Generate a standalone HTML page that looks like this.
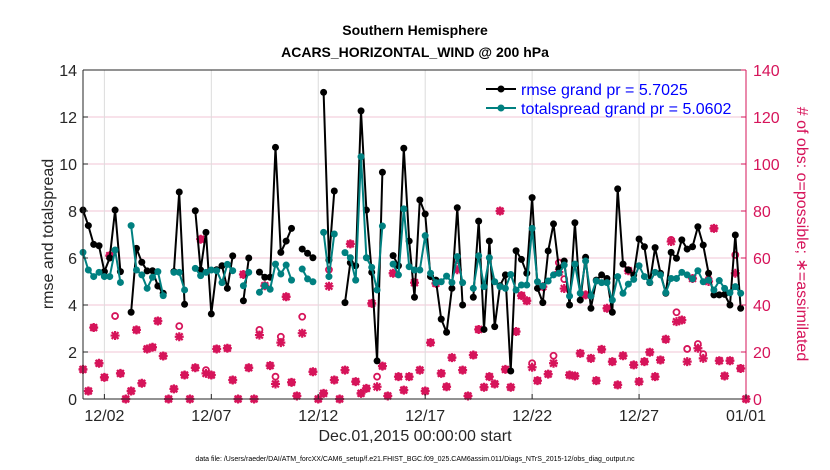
<!DOCTYPE html>
<html><head><meta charset="utf-8"><style>
body{margin:0;background:#fff;}
svg{display:block;font-family:"Liberation Sans",sans-serif;}
</style></head><body>
<svg id="chart" width="830" height="470" xmlns="http://www.w3.org/2000/svg"></svg>
<script>
const rmse=[8.04,7.38,6.58,6.52,5.42,6.0,8.04,5.42,null,3.69,6.41,5.82,5.45,5.46,4.81,4.5,null,5.42,8.81,4.03,null,8.01,5.49,7.09,3.62,5.5,5.67,4.71,6.09,null,4.18,6.0,null,5.40,5.18,5.18,10.71,6.24,6.72,7.26,null,6.38,6.2,6.01,null,13.05,5.91,8.85,null,4.1,5.8,5.67,12.26,8.04,5.39,1.62,9.65,null,6.1,5.67,10.67,6.72,4.33,8.47,7.87,5.21,5.06,3.4,2.84,4.71,8.14,4.0,null,4.33,7.57,2.96,6.72,3.08,4.82,5.28,1.19,6.31,5.94,5.35,8.57,4.71,4.10,6.3,7.45,5.56,5.87,4.0,7.5,4.21,6.03,3.86,5.06,5.28,5.13,3.69,8.94,5.74,5.49,5.28,6.81,6.48,4.95,6.44,5.35,4.5,6.24,5.99,6.77,6.38,6.48,7.33,6.55,5.35,4.43,4.43,4.45,4.0,6.98,3.86,null];
const spread=[6.24,5.49,5.21,5.39,5.21,5.21,6.34,4.96,null,7.38,5.49,5.28,4.71,5.18,5.42,4.40,null,5.39,5.39,4.64,null,5.56,5.25,5.39,5.49,5.46,4.95,5.73,5.46,null,4.82,5.39,null,4.54,4.82,4.67,5.74,5.32,5.70,5.06,null,5.53,5.11,4.99,null,7.09,5.21,7.02,null,6.23,6.01,5.06,10.31,6.01,5.60,4.64,7.36,null,5.74,5.28,8.09,5.63,5.49,5.49,6.95,5.35,4.95,4.99,5.23,4.96,6.06,4.95,null,4.71,6.09,4.78,6.01,4.99,4.78,4.71,5.30,4.64,4.85,4.85,7.26,4.99,4.81,5.02,5.28,5.35,5.70,4.38,5.74,4.5,5.87,4.38,5.02,4.95,4.95,4.21,5.21,4.5,4.89,5.09,5.67,5.21,4.96,5.39,5.28,4.52,5.13,5.13,5.39,5.28,5.11,5.46,4.99,5.06,4.64,5.04,4.71,4.52,4.78,4.5,null];
const assim=[12.6,3.4,30.4,15.2,9.2,61,27,10.9,0,3.4,29.4,6.7,21.3,22,33.2,18.3,0,4.3,26.5,10.2,0,13.3,68,10.9,10.2,21.3,null,21.6,8.1,0,53,13.3,0,27.2,48.2,14.2,6.4,24,43.5,7.1,1.3,28,null,11.6,0,2.4,48,8.1,0,12.3,66,7.4,2.4,4.5,40.7,5.2,14,1.3,53.5,9.5,3.8,9.5,49.5,12.3,3.4,24,49.2,10.9,5.2,17.6,55,12.3,1.3,18.7,29.6,5,9.5,6.4,80,12.6,5,28.7,44,41.8,13.5,7.8,47.8,10.6,15.2,54,47,10.2,9.8,19.4,44.3,17.3,7.8,21.1,38.6,15.9,6,18.4,54.6,14.5,7.4,15.9,19.9,9.5,16.6,25.4,67,32.9,33.6,15.9,51.3,21.6,17.3,50,72.6,16.3,9.8,16.3,53.5,13,0];
const possible=[12.6,3.4,30.4,15.2,9.2,61,35.3,10.9,0,3.4,29.4,6.7,21.3,22,33.2,18.3,0,4.3,31,10.2,0,13.3,68,12.3,10.2,21.3,null,21.6,8.1,0,53,13.3,0,29.4,48.2,14.2,9.5,26.5,43.5,7.1,1.3,35,null,11.6,0,2.4,55,8.1,0,12.3,66,7.4,2.4,4.5,40.7,9.5,14,1.3,53.5,9.5,3.8,9.5,49.5,12.3,3.4,24,49.2,10.9,5.2,17.6,59,12.3,1.3,18.7,29.6,5,9.5,6.4,80,12.6,5,28.7,44,41.8,15.2,7.8,47.8,10.6,18.4,58,51,10.2,9.8,19.4,44.3,17.3,7.8,21.1,38.6,15.9,6,18.4,54.6,14.5,7.4,15.9,19.9,9.5,16.6,25.4,67.7,36.9,33.6,21.3,51.3,23.4,19.1,51,72.6,16.3,9.8,16.3,61.3,13,0];
const xTickDays=[1,6,11,16,21,26,31];
const xTickLabels=["12/02","12/07","12/12","12/17","12/22","12/27","01/01"];
const yTicks=[0,2,4,6,8,10,12,14];
const y2Ticks=[0,20,40,60,80,100,120,140];

const L=83,R=746,T=70,B=399,MAG="#d6145a";
const X=d=>L+(R-L)*d/31;
const XS=i=>X(i*0.25);
const Y=v=>B-(B-T)*v/14;
const Y2=v=>B-(B-T)*v/140;
const svg=document.getElementById('chart');
const NS="http://www.w3.org/2000/svg";
function mk(tag,attrs,parent){const e=document.createElementNS(NS,tag);for(const k in attrs)e.setAttribute(k,attrs[k]);(parent||svg).appendChild(e);return e;}

const grid=mk('g',{});


y2Ticks.forEach(v=>{if(v>0&&v<140){const l=mk('line',{x1:L,x2:R,y1:Y2(v),y2:Y2(v),stroke:"#f2c6d6","stroke-width":1},grid);

}});
xTickDays.forEach(d=>{if(d<31){const l=mk('line',{x1:X(d),x2:X(d),y1:T,y2:B,stroke:"#dcdcdc","stroke-width":1},grid);

}});

// obs markers
const obs=mk('g',{});


possible.forEach((v,i)=>{if(v==null)return;const c=mk('circle',{cx:XS(i),cy:Y2(v),r:3,fill:"none",stroke:MAG,"stroke-width":1.8},obs);

});
assim.forEach((v,i)=>{if(v==null)return;const x=XS(i),y=Y2(v),s=4.5,d=3.4;
const p=mk('path',{d:`M${x-s} ${y}H${x+s}M${x} ${y-s}V${y+s}M${x-d} ${y-d}L${x+d} ${y+d}M${x-d} ${y+d}L${x+d} ${y-d}`,stroke:MAG,"stroke-width":2.2,fill:"none"},obs);

});

function series(arr,color,name){
  const g=mk('g',{});
  
  
  let d="",pen=false;
  arr.forEach((v,i)=>{if(v==null){pen=false;return;}d+=(pen?"L":"M")+XS(i).toFixed(1)+" "+Y(v).toFixed(1);pen=true;});
  mk('path',{d:d,stroke:color,"stroke-width":2,fill:"none","stroke-linejoin":"round"},g);
  arr.forEach((v,i)=>{if(v==null)return;const c=mk('circle',{cx:XS(i),cy:Y(v),r:3.5,fill:color},g);
  
  });
}
series(rmse,"#000","rmse-series");
series(spread,"#008080","totalspread-series");

// axes
const ax=mk('g',{});


mk('line',{x1:L,x2:L,y1:T,y2:B,stroke:"#262626","stroke-width":1},ax);
mk('line',{x1:L,x2:R,y1:B,y2:B,stroke:"#262626","stroke-width":1},ax);
mk('line',{x1:L,x2:R,y1:T,y2:T,stroke:"#262626","stroke-width":1},ax);
mk('line',{x1:R,x2:R,y1:T,y2:B,stroke:MAG,"stroke-width":1},ax);
yTicks.forEach(v=>{mk('line',{x1:L,x2:L+5,y1:Y(v),y2:Y(v),stroke:"#262626"},ax);
const t=mk('text',{x:L-6,y:Y(v)+6,"text-anchor":"end","font-size":16,fill:"#262626"},ax);t.textContent=v;

});
y2Ticks.forEach(v=>{mk('line',{x1:R-5,x2:R,y1:Y2(v),y2:Y2(v),stroke:MAG},ax);
const t=mk('text',{x:R+7,y:Y2(v)+6,"font-size":16,fill:MAG},ax);t.textContent=v;

});
xTickDays.forEach((d,i)=>{mk('line',{x1:X(d),x2:X(d),y1:B,y2:B-5,stroke:"#262626"},ax);
const t=mk('text',{x:X(d),y:B+22,"text-anchor":"middle","font-size":16,fill:"#262626"},ax);t.textContent=xTickLabels[i];

});
</script>
<svg style="position:absolute;left:0;top:0" width="830" height="470" xmlns="http://www.w3.org/2000/svg" font-family="Liberation Sans, sans-serif">
<text x="415" y="35" text-anchor="middle" font-size="14" font-weight="bold">Southern Hemisphere</text>
<text x="415" y="57" text-anchor="middle" font-size="14" font-weight="bold">ACARS_HORIZONTAL_WIND @ 200 hPa</text>
<text transform="translate(53,234) rotate(-90)" text-anchor="middle" font-size="16" fill="#262626">rmse and totalspread</text>
<text transform="translate(797,234) rotate(90)" text-anchor="middle" font-size="16" fill="#d6145a"># of obs: o=possible; ∗=assimilated</text>
<text x="415" y="441" text-anchor="middle" font-size="16" fill="#262626">Dec.01,2015 00:00:00 start</text>
<text x="415" y="461" text-anchor="middle" font-size="7" fill="#000">data file: /Users/raeder/DAI/ATM_forcXX/CAM6_setup/f.e21.FHIST_BGC.f09_025.CAM6assim.011/Diags_NTrS_2015-12/obs_diag_output.nc</text>
<g>
<g>
<line x1="486" x2="516" y1="89" y2="89" stroke="#000" stroke-width="2"/><circle cx="501" cy="89" r="3.5" fill="#000"/>
<text x="521" y="95" font-size="16" fill="#0000ff">rmse grand pr = 5.7025</text></g>
<g>
<line x1="486" x2="516" y1="108" y2="108" stroke="#008080" stroke-width="2"/><circle cx="501" cy="108" r="3.5" fill="#008080"/>
<text x="521" y="114" font-size="16" fill="#0000ff">totalspread grand pr = 5.0602</text></g>
</g>
</svg>
</body></html>
